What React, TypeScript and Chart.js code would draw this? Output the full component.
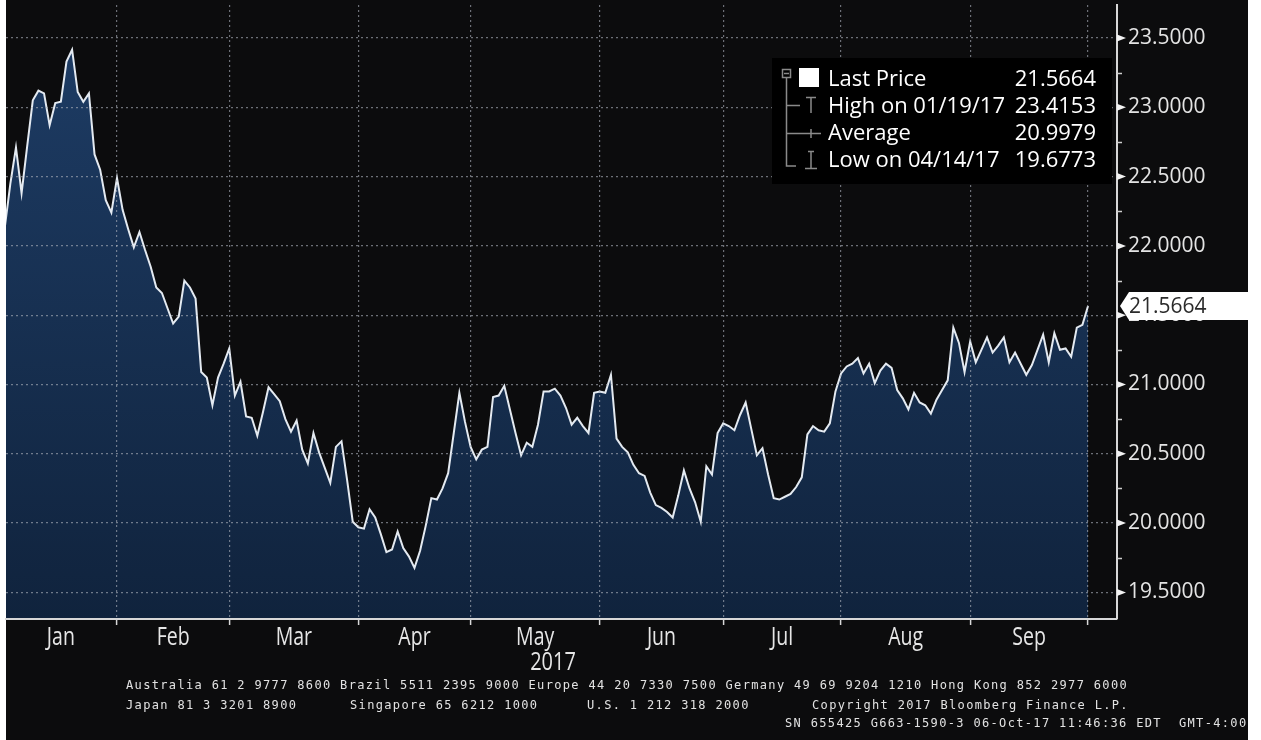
import React, { useEffect, useRef } from 'react';
import { Chart, registerables } from 'chart.js';

Chart.register(...registerables);

// ---------- data ----------
const months = ['Jan', 'Feb', 'Mar', 'Apr', 'May', 'Jun', 'Jul', 'Aug', 'Sep'];
// weekday index (Jan 2 2017 = 0) at which each month label is centred
const monthLabelIdx = [11, 31, 52.5, 74, 95.5, 118, 139.5, 161.5, 183.5];
// weekday index of the month separators (last weekday of the previous month)
const monthBoundaryIdx = [21, 41, 64, 84, 107, 129, 150, 173, 194];
const yearLabel = '2017';
const firstIdx = 1;
const prices = [
  22.13, 22.45, 22.71, 22.38, 22.72, 23.05, 23.12, 23.10, 22.87, 23.03,
  23.04, 23.33, 23.4153, 23.11, 23.04, 23.10, 22.66, 22.55, 22.33, 22.24,
  22.49, 22.26, 22.12, 21.99, 22.10, 21.97, 21.85, 21.70, 21.66, 21.55,
  21.44, 21.49, 21.75, 21.70, 21.62, 21.09, 21.05, 20.85, 21.05, 21.15,
  21.26, 20.92, 21.02, 20.77, 20.76, 20.63, 20.80, 20.98, 20.93, 20.88,
  20.75, 20.66, 20.74, 20.53, 20.43, 20.65, 20.51, 20.40, 20.29, 20.55,
  20.59, 20.31, 20.01, 19.97, 19.96, 20.10, 20.04, 19.92, 19.79, 19.81,
  19.94, 19.82, 19.76, 19.6773, 19.80, 19.98, 20.18, 20.17, 20.25, 20.36,
  20.65, 20.94, 20.73, 20.55, 20.46, 20.53, 20.55, 20.91, 20.92, 20.99,
  20.82, 20.65, 20.49, 20.58, 20.55, 20.71, 20.95, 20.95, 20.97, 20.92,
  20.83, 20.71, 20.76, 20.70, 20.65, 20.94, 20.95, 20.94, 21.07, 20.61,
  20.55, 20.51, 20.42, 20.36, 20.34, 20.22, 20.13, 20.11, 20.08, 20.04,
  20.20, 20.38, 20.25, 20.15, 20.01, 20.41, 20.35, 20.65, 20.72, 20.70,
  20.67, 20.78, 20.87, 20.68, 20.49, 20.54, 20.35, 20.18, 20.17, 20.19,
  20.21, 20.26, 20.33, 20.64, 20.70, 20.67, 20.66, 20.72, 20.95, 21.08,
  21.13, 21.15, 21.19, 21.08, 21.15, 21.01, 21.10, 21.15, 21.12, 20.96,
  20.90, 20.82, 20.94, 20.87, 20.85, 20.79, 20.89, 20.96, 21.03, 21.41,
  21.30, 21.09, 21.31, 21.16, 21.25, 21.34, 21.23, 21.28, 21.34, 21.16,
  21.23, 21.15, 21.07, 21.14, 21.25, 21.36, 21.16, 21.37, 21.25, 21.26,
  21.20, 21.41, 21.43, 21.5664,
];
const yTicks = [19.5, 20, 20.5, 21, 21.5, 22, 22.5, 23, 23.5];
const yMinorTicks = [19.75, 20.25, 20.75, 21.25, 21.75, 22.25, 22.75, 23.25];
const legendLabels = ['Last Price', 'High on 01/19/17', 'Average', 'Low on 04/14/17'];
const legendValues = ['21.5664', '23.4153', '20.9979', '19.6773'];
const lastPrice = 21.5664;
const footerTexts = [
  'Australia 61 2 9777 8600 Brazil 5511 2395 9000 Europe 44 20 7330 7500 Germany 49 69 9204 1210 Hong Kong 852 2977 6000',
  'Japan 81 3 3201 8900',
  'Singapore 65 6212 1000',
  'U.S. 1 212 318 2000',
  'Copyright 2017 Bloomberg Finance L.P.',
  'SN 655425 G663-1590-3 06-Oct-17 11:46:36 EDT  GMT-4:00',
];

// ---------- layout / style ----------
const W = 1261;
const H = 740;
const FRAME_LEFT = 6;
const FRAME_RIGHT = 1248;
const BG = '#0c0c0d';
const footerPos = [
  [126, 689], [126, 709], [350, 709], [587, 709], [812, 709], [785, 727],
];
const X_MIN = 1.225;
const X_MAX = 199.16;
const Y_MIN = 19.308;
const Y_MAX = 23.738;
const GRID = 'rgba(175,180,190,0.6)';

const decor = {
  id: 'decor',
  beforeDraw(chart: any) {
    const c = chart.ctx;
    c.save();
    c.fillStyle = '#ffffff';
    c.fillRect(0, 0, W, H);
    c.fillStyle = BG;
    c.fillRect(FRAME_LEFT, 0, FRAME_RIGHT - FRAME_LEFT, H);
    c.restore();
  },
  afterDraw(chart: any) {
    const c = chart.ctx;
    const xs = chart.scales.x;
    const ys = chart.scales.y;
    const a = chart.chartArea;
    c.save();

    // y-axis markers
    c.fillStyle = '#f2f2f2';
    for (const v of yTicks) {
      const y = ys.getPixelForValue(v);
      c.beginPath();
      c.moveTo(a.right, y - 3.5);
      c.lineTo(a.right + 9, y);
      c.lineTo(a.right, y + 3.5);
      c.closePath();
      c.fill();
    }
    c.strokeStyle = '#cfcfcf';
    c.lineWidth = 1.5;
    for (const v of yMinorTicks) {
      const y = Math.round(ys.getPixelForValue(v)) + 0.5;
      c.beginPath();
      c.moveTo(a.right, y);
      c.lineTo(a.right + 5, y);
      c.stroke();
    }

    // last price tag
    const ly = ys.getPixelForValue(lastPrice);
    c.fillStyle = '#ffffff';
    c.beginPath();
    c.moveTo(a.right + 3, ly);
    c.lineTo(a.right + 12, ly - 14);
    c.lineTo(FRAME_RIGHT, ly - 14);
    c.lineTo(FRAME_RIGHT, ly + 14);
    c.lineTo(a.right + 12, ly + 14);
    c.closePath();
    c.fill();
    c.fillStyle = '#2b2b2b';
    c.font = '21px "Open Sans"';
    c.textAlign = 'left';
    c.textBaseline = 'middle';
    c.fillText(lastPrice.toFixed(4), a.right + 12, ly + 1);

    // legend
    c.fillStyle = '#000000';
    c.fillRect(772, 58, 340, 126);
    c.strokeStyle = '#8a8a8a';
    c.lineWidth = 1.5;
    c.strokeRect(782.5, 69.5, 8, 8);
    c.beginPath();
    c.moveTo(784, 73.5); c.lineTo(789, 73.5);
    c.moveTo(786.5, 78); c.lineTo(786.5, 166);
    c.lineTo(796, 166);
    c.moveTo(786.5, 105.5); c.lineTo(800, 105.5);
    c.moveTo(806, 97.5); c.lineTo(816, 97.5);
    c.moveTo(811, 97.5); c.lineTo(811, 113);
    c.moveTo(786.5, 133.5); c.lineTo(821, 133.5);
    c.moveTo(811, 129); c.lineTo(811, 138);
    c.moveTo(808, 151.5); c.lineTo(814, 151.5);
    c.moveTo(811, 151.5); c.lineTo(811, 168);
    c.moveTo(805, 168.5); c.lineTo(817, 168.5);
    c.stroke();
    c.fillStyle = '#ffffff';
    c.fillRect(799, 68, 20, 19);
    c.font = '22px "Open Sans"';
    c.textBaseline = 'alphabetic';
    const rows = [86, 113, 140, 167];
    legendLabels.forEach((t, k) => {
      c.textAlign = 'left';
      c.fillText(t, 828, rows[k]);
      c.textAlign = 'right';
      c.fillText(legendValues[k], 1096, rows[k]);
    });

    // month labels
    c.fillStyle = '#e6e6e6';
    c.font = '25px "Open Sans"';
    c.textAlign = 'center';
    c.textBaseline = 'alphabetic';
    months.forEach((m, k) => {
      const x = xs.getPixelForValue(monthLabelIdx[k]);
      c.save();
      c.translate(x, 645);
      c.scale(0.78, 1);
      c.fillText(m, 0, 0);
      c.restore();
    });
    c.save();
    c.translate(553, 670);
    c.scale(0.8, 1);
    c.fillText(yearLabel, 0, 0);
    c.restore();

    // footer
    c.fillStyle = '#e2e2e2';
    c.font = '12px "DejaVu Sans Mono"';
    c.textAlign = 'left';
    (c as any).letterSpacing = '1.34px';
    footerTexts.forEach((t, k) => {
      c.fillText(t, footerPos[k][0], footerPos[k][1]);
    });
    (c as any).letterSpacing = '0px';
    c.restore();
  },
};

export default function App() {
  const ref = useRef<HTMLCanvasElement | null>(null);
  useEffect(() => {
    if (!ref.current) return;
    const chart = new Chart(ref.current, {
      type: 'line',
      data: {
        datasets: [
          {
            data: prices.map((v, k) => ({ x: firstIdx + k, y: v })),
            borderColor: '#e4eaf1',
            borderWidth: 2,
            pointRadius: 0,
            tension: 0,
            fill: 'start',
            backgroundColor: (ctx: any) => {
              const area = ctx.chart.chartArea;
              if (!area) return '#16304f';
              const g = ctx.chart.ctx.createLinearGradient(0, area.top, 0, area.bottom);
              g.addColorStop(0, '#1e3d66');
              g.addColorStop(1, '#10233d');
              return g;
            },
          },
        ],
      },
      options: {
        responsive: false,
        devicePixelRatio: 1,
        animation: false,
        layout: { padding: { left: FRAME_LEFT, top: 5, right: 0, bottom: 0 } },
        plugins: { legend: { display: false }, tooltip: { enabled: false } },
        scales: {
          x: {
            type: 'linear',
            position: 'bottom',
            min: X_MIN,
            max: X_MAX,
            afterBuildTicks: (s: any) => {
              s.ticks = monthBoundaryIdx.map((v) => ({ value: v }));
            },
            afterFit: (s: any) => {
              s.height = 121;
              s.paddingLeft = 0;
              s.paddingRight = 0;
            },
            ticks: { display: false },
            grid: {
              z: 1,
              color: GRID,
              lineWidth: 1.2,
              drawTicks: true,
              tickLength: 6,
              tickColor: '#d8d8d8',
              tickWidth: 1.5,
              tickBorderDash: [],
            },
            border: { display: true, z: 2, color: '#d8d8d8', width: 2, dash: [2, 3] },
          },
          y: {
            type: 'linear',
            position: 'right',
            min: Y_MIN,
            max: Y_MAX,
            afterBuildTicks: (s: any) => {
              s.ticks = yTicks.map((v) => ({ value: v }));
            },
            afterFit: (s: any) => {
              s.width = W - 1117;
              s.paddingTop = 0;
              s.paddingBottom = 0;
            },
            ticks: {
              color: '#e4e4e4',
              font: { family: 'Open Sans', size: 21 },
              padding: 11,
              callback: (v: any) => Number(v).toFixed(4),
            },
            grid: { z: 1, color: GRID, lineWidth: 1.2, drawTicks: false },
            border: { display: true, z: 2, color: '#d8d8d8', width: 2, dash: [2, 3] },
          },
        },
      },
      plugins: [decor],
    });
    return () => chart.destroy();
  }, []);
  return (
    <div style={{ position: 'fixed', left: 0, top: 0, width: W, height: H }}>
      <canvas ref={ref} width={W} height={H} style={{ display: 'block' }} />
    </div>
  );
}
